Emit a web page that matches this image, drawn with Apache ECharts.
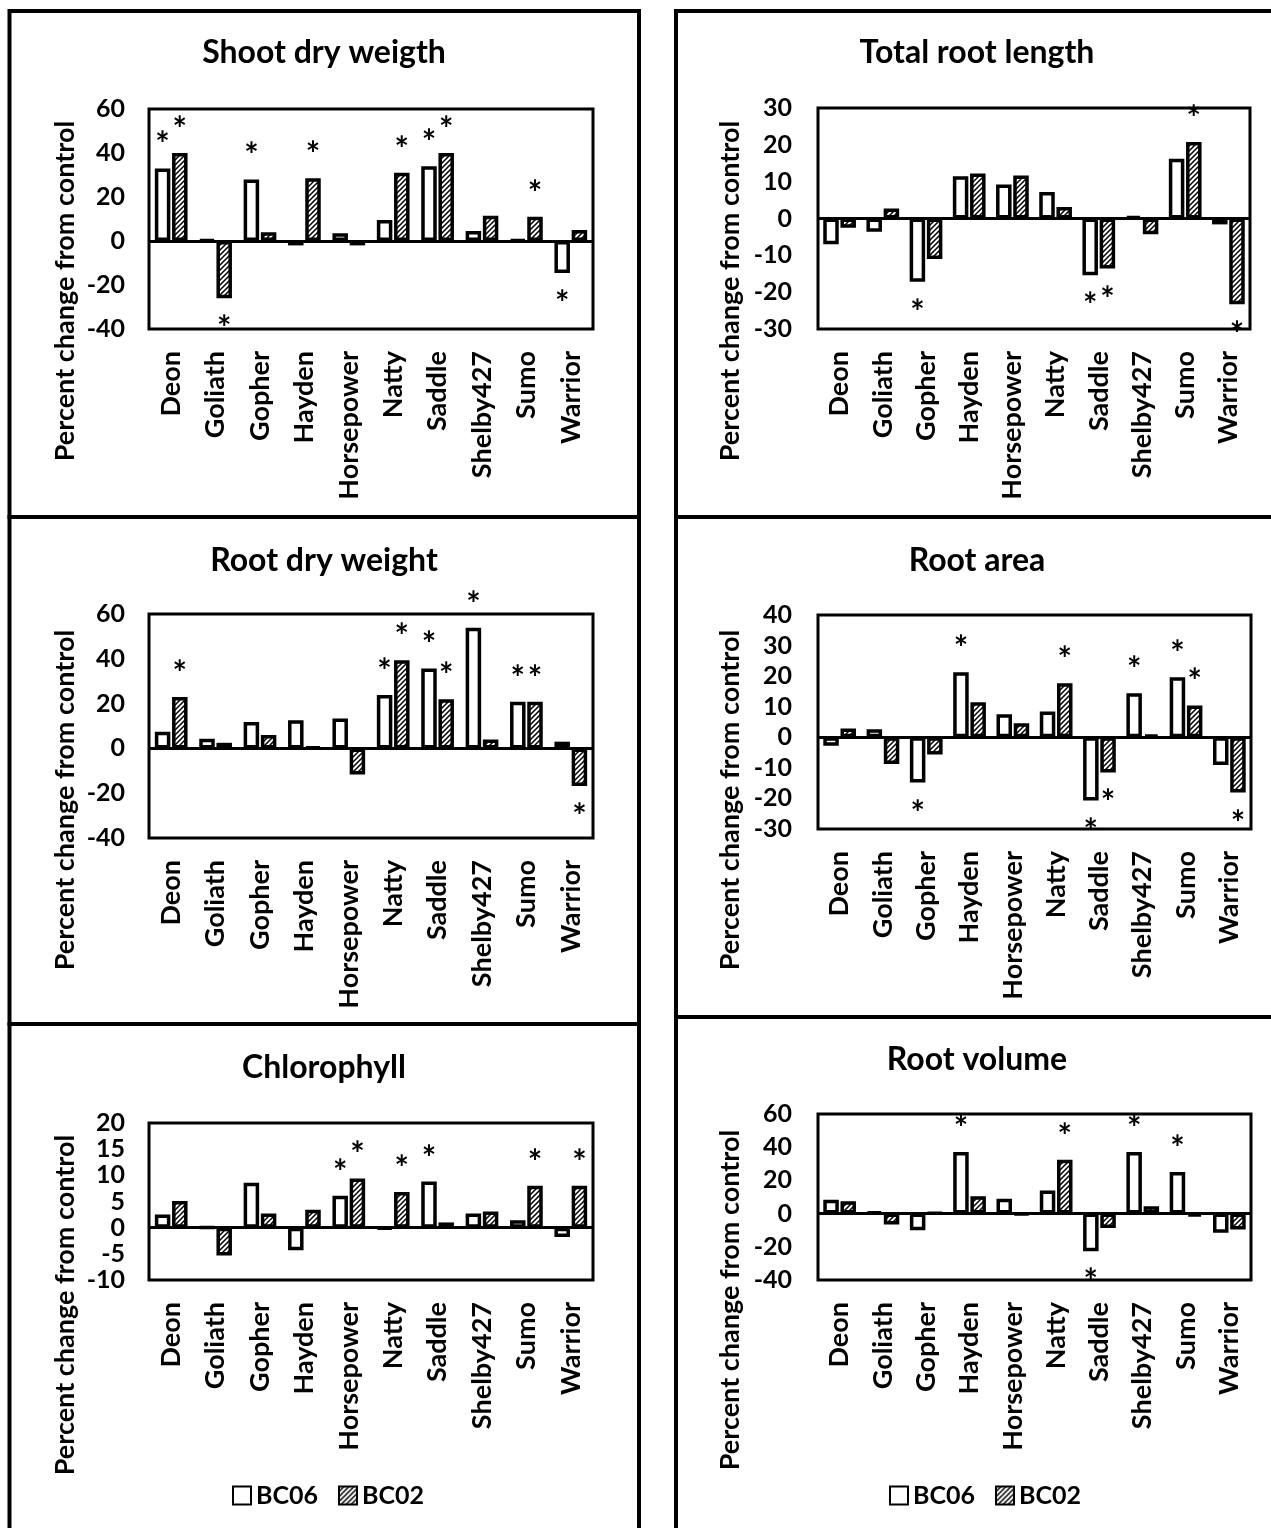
<!DOCTYPE html>
<html>
<head>
<meta charset="UTF-8">
<title>Percent change from control</title>
<style>
  html, body { margin: 0; padding: 0; background: #fff; }
  #main { width: 1271px; height: 1528px; }
</style>
</head>
<body>
<div id="main"></div>
<script src="https://cdn.jsdelivr.net/npm/echarts@6/dist/echarts.min.js"></script>
<script>
// cultivars on the x axis
var cultivars = ['Deon', 'Goliath', 'Gopher', 'Hayden', 'Horsepower', 'Natty', 'Saddle', 'Shelby427', 'Sumo', 'Warrior'];
var seriesNames = ['BC06', 'BC02'];
var titles = ['Shoot dry weigth', 'Total root length', 'Root dry weight', 'Root area', 'Chlorophyll', 'Root volume'];
var yName = 'Percent change from control';

// percent change from control
var shootBC06 = [33, 0.5, 28, -2, 3.5, 9.5, 34, 4.5, 0.5, -14.5];
var shootBC02 = [40, -26, 4, 28.5, -2, 31, 40, 11.5, 11, 5];
var lengthBC06 = [-7, -3.6, -17.2, 11.5, 9.2, 7.2, -15.4, 0.6, 16.2, -1.6];
var lengthBC02 = [-2.5, 2.7, -11, 12.2, 11.7, 3.1, -13.6, -4.3, 20.8, -23.3];
var rootDwBC06 = [7.4, 4.3, 11.8, 12.6, 13.4, 23.8, 35.7, 53.9, 20.8, 3];
var rootDwBC02 = [22.9, 2.5, 6, 0.6, -11.6, 39.4, 21.9, 4, 20.8, -16.8];
var areaBC06 = [-2.8, 2.6, -14.8, 21.3, 7.5, 8.4, -20.7, 14.4, 19.6, -9.1];
var areaBC02 = [2.9, -8.7, -5.6, 11.5, 4.6, 17.7, -11.5, 0.9, 10.4, -18.1];
var chloroBC06 = [2.5, 0.1, 8.6, -4.3, 6.1, -0.2, 8.8, 2.7, 1.4, -1.8];
var chloroBC02 = [5.1, -5.3, 2.7, 3.4, 9.4, 6.8, 1, 3.1, 8, 8];
var volumeBC06 = [8.4, 1, -10, 37.1, 9, 13.9, -22.7, 37.1, 25.1, -11.6];
var volumeBC02 = [7.4, -6.6, 0.3, 10.4, -0.5, 32.5, -8.6, 4.4, -1.6, -9.6];

// significance (1 = asterisk)
var shootSig06 = [1, 0, 1, 0, 0, 0, 1, 0, 0, 1];
var shootSig02 = [1, 1, 0, 1, 0, 1, 1, 0, 1, 0];
var lengthSig06 = [0, 0, 1, 0, 0, 0, 1, 0, 0, 0];
var lengthSig02 = [0, 0, 0, 0, 0, 0, 1, 0, 1, 1];
var rootDwSig06 = [0, 0, 0, 0, 0, 1, 1, 1, 1, 0];
var rootDwSig02 = [1, 0, 0, 0, 0, 1, 1, 0, 1, 1];
var areaSig06 = [0, 0, 1, 1, 0, 0, 1, 1, 1, 0];
var areaSig02 = [0, 0, 0, 0, 0, 1, 1, 0, 1, 1];
var chloroSig06 = [0, 0, 0, 0, 1, 0, 1, 0, 0, 0];
var chloroSig02 = [0, 0, 0, 0, 1, 1, 0, 0, 1, 1];
var volumeSig06 = [0, 0, 0, 1, 0, 0, 1, 1, 1, 0];
var volumeSig02 = [0, 0, 0, 0, 0, 1, 0, 0, 0, 0];

// y axis ticks per panel
var yMin = [-40, -30, -40, -30, -10, -40];
var yMax = [60, 30, 60, 40, 20, 60];
var yStep = [20, 10, 20, 10, 5, 20];

var values06 = [shootBC06, lengthBC06, rootDwBC06, areaBC06, chloroBC06, volumeBC06];
var values02 = [shootBC02, lengthBC02, rootDwBC02, areaBC02, chloroBC02, volumeBC02];
var sig06 = [shootSig06, lengthSig06, rootDwSig06, areaSig06, chloroSig06, volumeSig06];
var sig02 = [shootSig02, lengthSig02, rootDwSig02, areaSig02, chloroSig02, volumeSig02];

// panel layout (pixels)
var layout = [
  {grid: {left: 149, top: 109, width: 444, height: 220}, title: [324, 53], name: [65, 291], margin: 24},
  {grid: {left: 818, top: 108, width: 432, height: 221}, title: [977, 53], name: [730, 291], margin: 26},
  {grid: {left: 149, top: 614, width: 444, height: 224}, title: [324, 561], name: [65, 800], margin: 24},
  {grid: {left: 818, top: 615, width: 433, height: 214}, title: [977, 561], name: [730, 800], margin: 26},
  {grid: {left: 149, top: 1123, width: 444, height: 157}, title: [324, 1068], name: [65, 1305], margin: 24},
  {grid: {left: 818, top: 1114, width: 433, height: 166}, title: [977, 1060], name: [730, 1300], margin: 26}
];

var font = 'Lato';

// diagonal hatch for BC02
var hatch = document.createElement('canvas');
hatch.width = hatch.height = 5;
var g = hatch.getContext('2d');
g.fillStyle = '#fff';
g.fillRect(0, 0, 5, 5);
g.strokeStyle = '#000';
g.lineWidth = 1.5;
g.beginPath();
g.moveTo(0, 5); g.lineTo(5, 0);
g.moveTo(-1, 1); g.lineTo(1, -1);
g.moveTo(4, 6); g.lineTo(6, 4);
g.stroke();

var fills = ['#fff', {image: hatch, repeat: 'repeat'}];

function barData(vals, sig) {
  return vals.map(function (v, i) {
    var neg = v < 0;
    return {
      value: v,
      label: {show: !!sig[i], position: neg ? 'bottom' : 'top', distance: neg ? 14 : 6}
    };
  });
}

var grids = [], xAxes = [], yAxes = [], series = [], graphics = [];

layout.forEach(function (p, k) {
  grids.push(Object.assign({show: true, borderColor: '#000', borderWidth: 3, backgroundColor: 'transparent'}, p.grid));
  xAxes.push({
    type: 'category', gridIndex: k, data: cultivars, position: 'bottom',
    axisLine: {show: false, onZero: false}, axisTick: {show: false},
    axisLabel: {rotate: 90, margin: 22, interval: 0, color: '#000', fontFamily: font, fontWeight: 'bold', fontSize: 27}
  });
  yAxes.push({
    type: 'value', gridIndex: k, min: yMin[k], max: yMax[k], interval: yStep[k],
    axisLine: {show: false}, axisTick: {show: false}, splitLine: {show: false},
    axisLabel: {margin: p.margin, color: '#000', fontFamily: font, fontWeight: 'bold', fontSize: 25}
  });
  [values06[k], values02[k]].forEach(function (vals, s) {
    var sr = {
      name: seriesNames[s], type: 'bar', xAxisIndex: k, yAxisIndex: k,
      barWidth: 15.5, barGap: '11%',
      itemStyle: {color: fills[s], borderColor: '#000', borderWidth: 3.5},
      label: {formatter: '*', color: '#000', fontFamily: font, fontWeight: 'bold', fontSize: 34},
      data: barData(vals, s === 0 ? sig06[k] : sig02[k]),
      animation: false
    };
    if (s === 1) {
      sr.markLine = {
        silent: true, symbol: 'none', label: {show: false},
        lineStyle: {color: '#000', width: 3, type: 'solid'},
        data: [{yAxis: 0}]
      };
    }
    series.push(sr);
  });
  graphics.push({
    type: 'text', x: p.title[0], y: p.title[1],
    style: {text: titles[k], align: 'center', verticalAlign: 'middle', fill: '#000', font: 'bold 32px ' + font}
  });
  graphics.push({
    type: 'text', x: p.name[0], y: p.name[1], rotation: Math.PI / 2,
    style: {text: yName, align: 'center', verticalAlign: 'middle', fill: '#000', font: 'bold 27px ' + font}
  });
});

// panel frames
[
  [9.5, 11, 629.5, 506], [9.5, 517, 629.5, 507], [9.5, 1024, 629.5, 510],
  [676, 11, 600, 506], [676, 517, 600, 500], [676, 1017, 600, 515]
].forEach(function (r) {
  graphics.push({
    type: 'rect', shape: {x: r[0], y: r[1], width: r[2], height: r[3]},
    style: {fill: 'none', stroke: '#000', lineWidth: 4}, z: 100
  });
});

var legendText = {color: '#000', fontFamily: font, fontWeight: 'bold', fontSize: 25};
var chart = echarts.init(document.getElementById('main'));
chart.setOption({
  backgroundColor: '#fff',
  animation: false,
  grid: grids,
  xAxis: xAxes,
  yAxis: yAxes,
  legend: [
    {data: seriesNames, left: 227, top: 1478, icon: 'rect', itemWidth: 18, itemHeight: 18, itemGap: 20, textStyle: legendText},
    {data: seriesNames, left: 884, top: 1478, icon: 'rect', itemWidth: 18, itemHeight: 18, itemGap: 20, textStyle: legendText}
  ],
  graphic: graphics,
  series: series
});
</script>
</body>
</html>
